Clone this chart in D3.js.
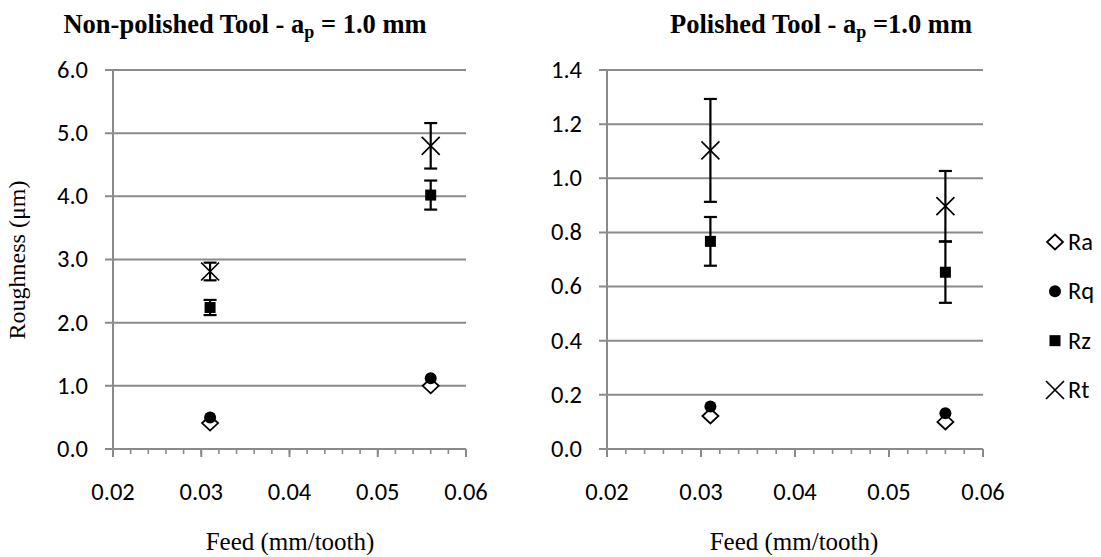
<!DOCTYPE html>
<html>
<head>
<meta charset="utf-8">
<script src="https://cdn.jsdelivr.net/npm/d3@7"></script>
<style>
  html, body { margin: 0; padding: 0; background: #fff; }
  svg { display: block; }
</style>
</head>
<body>
<svg id="chart" width="1101" height="557"></svg>
<script>
// ---------- data ----------
const feed = [0.031, 0.056];
const seriesNames = ["Ra", "Rq", "Rz", "Rt"];
const xTicks = [0.02, 0.03, 0.04, 0.05, 0.06];

// Non-polished tool
const np_Ra = [0.41, 1.00];
const np_Rq = [0.50, 1.12];
const np_Rz = [2.24, 4.02];
const np_Rt = [2.81, 4.80];
const np_RzErr = [0.12, 0.23];
const np_RtErr = [0.14, 0.36];
const np_yTicks = [0, 1, 2, 3, 4, 5, 6];

// Polished tool
const p_Ra = [0.122, 0.100];
const p_Rq = [0.157, 0.132];
const p_Rz = [0.767, 0.653];
const p_Rt = [1.103, 0.897];
const p_RzErr = [0.090, 0.113];
const p_RtErr = [0.190, 0.130];
const p_yTicks = [0, 0.2, 0.4, 0.6, 0.8, 1.0, 1.2, 1.4];

// ---------- drawing ----------
const svg = d3.select("#chart");
const tickFont = "Carlito, 'Open Sans', 'Liberation Sans', sans-serif";
const serif = "'Liberation Serif', 'Times New Roman', serif";
const gridColor = "#8a8a8a";
const tickSize = 24.5;

function panel(cfg) {
  const x = d3.scaleLinear().domain([0.02, 0.06]).range([cfg.x0, cfg.x1]);
  const y = d3.scaleLinear().domain([0, cfg.yMax]).range([449, 70]);
  const g = svg.append("g");

  // gridlines + y ticks
  g.selectAll("line.grid").data(cfg.yTicks).enter().append("line")
    .attr("x1", cfg.x0 - 8).attr("x2", cfg.x1)
    .attr("y1", d => y(d)).attr("y2", d => y(d))
    .attr("stroke", gridColor).attr("stroke-width", 2);

  // y axis line
  g.append("line").attr("x1", cfg.x0).attr("x2", cfg.x0)
    .attr("y1", y(cfg.yMax)).attr("y2", y(0))
    .attr("stroke", gridColor).attr("stroke-width", 2);

  // y tick labels
  g.selectAll("text.ytl").data(cfg.yTicks).enter().append("text")
    .attr("x", cfg.x0 - 25).attr("y", d => y(d))
    .attr("dy", "0.32em").attr("text-anchor", "end")
    .attr("font-family", tickFont).attr("font-size", tickSize).attr("fill", "#000")
    .text(d => d.toFixed(1));

  // x axis: minor and major ticks
  const minor = d3.range(0, 21).map(i => 0.02 + i * 0.002);
  g.selectAll("line.minor").data(minor).enter().append("line")
    .attr("x1", d => x(d)).attr("x2", d => x(d))
    .attr("y1", y(0)).attr("y2", y(0) + 5)
    .attr("stroke", gridColor).attr("stroke-width", 1.6);
  g.selectAll("line.major").data(xTicks).enter().append("line")
    .attr("x1", d => x(d)).attr("x2", d => x(d))
    .attr("y1", y(0)).attr("y2", y(0) + 8)
    .attr("stroke", gridColor).attr("stroke-width", 2);

  g.selectAll("text.xtl").data(xTicks).enter().append("text")
    .attr("x", d => x(d)).attr("y", 500)
    .attr("text-anchor", "middle")
    .attr("font-family", tickFont).attr("font-size", tickSize).attr("fill", "#000")
    .text(d => d.toFixed(2));

  // axis title x
  g.append("text").attr("x", cfg.xLabelX).attr("y", 550)
    .attr("text-anchor", "middle").attr("font-family", serif).attr("font-size", 25)
    .text("Feed (mm/tooth)");

  // title
  const t = g.append("text").attr("x", cfg.titleX).attr("y", 33)
    .attr("text-anchor", "middle").attr("font-family", serif)
    .attr("font-weight", "bold").attr("font-size", 26.5);
  t.append("tspan").text(cfg.titlePre);
  t.append("tspan").attr("baseline-shift", "-25%").attr("font-size", 18).text("p");
  t.append("tspan").text(cfg.titlePost);

  const pts = (vals) => vals.map((v, i) => ({ x: feed[i], y: v }));

  // error bars
  const errs = [];
  cfg.Rz.forEach((v, i) => errs.push({ x: feed[i], y: v, e: cfg.RzErr[i] }));
  cfg.Rt.forEach((v, i) => errs.push({ x: feed[i], y: v, e: cfg.RtErr[i] }));
  errs.forEach(d => {
    const xx = x(d.x), yt = y(d.y + d.e), yb = y(d.y - d.e);
    g.append("line").attr("x1", xx).attr("x2", xx).attr("y1", yt).attr("y2", yb)
      .attr("stroke", "#000").attr("stroke-width", 2.2);
    [yt, yb].forEach(yy => g.append("line")
      .attr("x1", xx - 6.5).attr("x2", xx + 6.5).attr("y1", yy).attr("y2", yy)
      .attr("stroke", "#000").attr("stroke-width", 2.2));
  });

  // Ra: open diamonds
  g.selectAll("path.ra").data(pts(cfg.Ra)).enter().append("path")
    .attr("transform", d => `translate(${x(d.x)},${y(d.y)})`)
    .attr("d", "M0,-7.5L8,0L0,7.5L-8,0Z")
    .attr("fill", "#fff").attr("stroke", "#000").attr("stroke-width", 1.8);
  // Rq: filled circles
  g.selectAll("circle.rq").data(pts(cfg.Rq)).enter().append("circle")
    .attr("cx", d => x(d.x)).attr("cy", d => y(d.y)).attr("r", 6)
    .attr("fill", "#000");
  // Rz: filled squares
  g.selectAll("rect.rz").data(pts(cfg.Rz)).enter().append("rect")
    .attr("x", d => x(d.x) - 5.5).attr("y", d => y(d.y) - 5.5)
    .attr("width", 11).attr("height", 11).attr("fill", "#000");
  // Rt: crosses
  g.selectAll("path.rt").data(pts(cfg.Rt)).enter().append("path")
    .attr("transform", d => `translate(${x(d.x)},${y(d.y)})`)
    .attr("d", "M-9,-9L9,9M-9,9L9,-9")
    .attr("fill", "none").attr("stroke", "#000").attr("stroke-width", 1.7);
}

panel({
  x0: 113, x1: 466, yMax: 6, yTicks: np_yTicks,
  Ra: np_Ra, Rq: np_Rq, Rz: np_Rz, Rt: np_Rt, RzErr: np_RzErr, RtErr: np_RtErr,
  titleX: 245, xLabelX: 290,
  titlePre: "Non-polished Tool - a", titlePost: " = 1.0 mm"
});
panel({
  x0: 607, x1: 983, yMax: 1.4, yTicks: p_yTicks,
  Ra: p_Ra, Rq: p_Rq, Rz: p_Rz, Rt: p_Rt, RzErr: p_RzErr, RtErr: p_RtErr,
  titleX: 821, xLabelX: 794,
  titlePre: "Polished Tool - a", titlePost: " =1.0 mm"
});

// y-axis title
svg.append("text").attr("transform", "translate(25,260) rotate(-90)")
  .attr("text-anchor", "middle").attr("font-family", serif).attr("font-size", 24)
  .text("Roughness (\u03bcm)");

// legend
const legY = d3.scalePoint().domain(seriesNames).range([242, 390]);
const leg = svg.append("g");
seriesNames.forEach(name => {
  const cy = legY(name), cx = 1055;
  if (name === "Ra") leg.append("path").attr("transform", `translate(${cx},${cy})`)
    .attr("d", "M0,-7.5L8,0L0,7.5L-8,0Z").attr("fill", "#fff").attr("stroke", "#000").attr("stroke-width", 1.8);
  if (name === "Rq") leg.append("circle").attr("cx", cx).attr("cy", cy).attr("r", 6).attr("fill", "#000");
  if (name === "Rz") leg.append("rect").attr("x", cx - 5.5).attr("y", cy - 5.5).attr("width", 11).attr("height", 11).attr("fill", "#000");
  if (name === "Rt") leg.append("path").attr("transform", `translate(${cx},${cy})`)
    .attr("d", "M-9,-9L9,9M-9,9L9,-9").attr("fill", "none").attr("stroke", "#000").attr("stroke-width", 1.7);
  leg.append("text").attr("x", 1068).attr("y", cy).attr("dy", "0.32em")
    .attr("font-family", tickFont).attr("font-size", tickSize).text(name);
});
</script>
</body>
</html>
